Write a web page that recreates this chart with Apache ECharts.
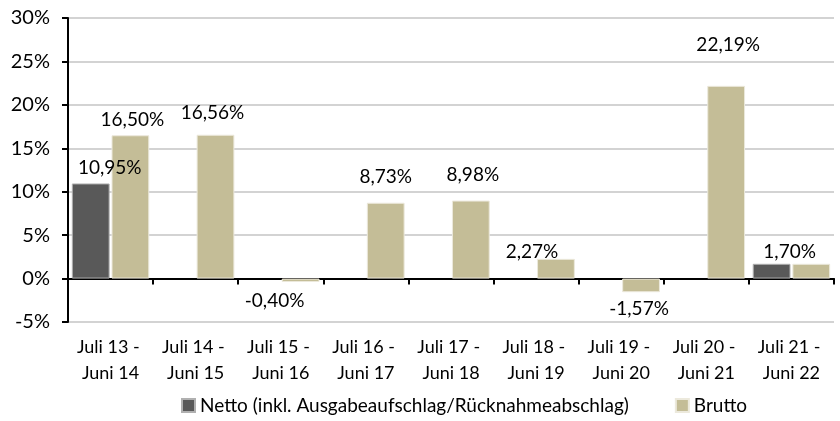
<!DOCTYPE html>
<html>
<head>
<meta charset="utf-8">
<script src="https://cdn.jsdelivr.net/npm/echarts@6/dist/echarts.min.js"></script>
<style>
  html, body { margin: 0; padding: 0; background: #fff; }
  #chart { width: 840px; height: 421px; }
</style>
</head>
<body>
<div id="chart"></div>
<script>
var categories = [
  'Juli 13 - \nJuni 14', 'Juli 14 - \nJuni 15', 'Juli 15 - \nJuni 16',
  'Juli 16 - \nJuni 17', 'Juli 17 - \nJuni 18', 'Juli 18 - \nJuni 19',
  'Juli 19 - \nJuni 20', 'Juli 20 - \nJuni 21', 'Juli 21 - \nJuni 22'
];
var nettoValues = [10.95, null, null, null, null, null, null, null, 1.70];
var bruttoValues = [16.50, 16.56, -0.40, 8.73, 8.98, 2.27, -1.57, 22.19, 1.70];
var yTicks = { min: -5, max: 30, step: 5 };

var FONT = 'Lato, "Open Sans", sans-serif';
var FS = 18;

// hand placed data labels, as in the original
var nettoLabelShift = { 0: [19, -1], 8: [18, 3] };
var bruttoLabelShift = [[2, -1], [-3, -7], [-26, 4], [0, -11], [2, -11], [-24, 8], [-2, 2], [2, -26], null];

function pct(v) {
  return v.toFixed(2).replace('.', ',') + '%';
}

function makeData(values, shifts) {
  return values.map(function (v, i) {
    if (v === null) return null;
    var s = shifts[i];
    var item = { value: v, label: { show: !!s } };
    if (s) {
      item.label.position = v < 0 ? 'bottom' : 'top';
      item.label.offset = s;
    }
    return item;
  });
}

var chart = echarts.init(document.getElementById('chart'));

chart.setOption({
  animation: false,
  textStyle: { fontFamily: FONT },
  grid: { left: 68, right: 6, top: 18, bottom: 99 },
  legend: {
    bottom: 1,
    left: 176,
    itemWidth: 13,
    itemHeight: 13,
    itemGap: 46,
    icon: 'rect',
    textStyle: { fontFamily: FONT, fontSize: FS + 1, color: '#000' },
    data: ['Netto (inkl. Ausgabeaufschlag/Rücknahmeabschlag)', 'Brutto']
  },
  xAxis: [
    {
      type: 'category',
      data: categories,
      position: 'bottom',
      axisLine: { onZero: true, lineStyle: { color: '#000', width: 2 } },
      axisTick: { show: true, length: 6, lineStyle: { color: '#000', width: 2 } },
      axisLabel: { show: false },
      splitLine: { show: false }
    },
    {
      type: 'category',
      data: categories,
      position: 'bottom',
      axisLine: { show: false, onZero: false },
      axisTick: { show: false },
      axisLabel: {
        interval: 0,
        hideOverlap: false,
        margin: 12,
        fontFamily: FONT,
        fontSize: FS,
        lineHeight: 26,
        color: '#000'
      }
    }
  ],
  yAxis: {
    type: 'value',
    min: yTicks.min,
    max: yTicks.max,
    interval: yTicks.step,
    axisLine: { show: true, lineStyle: { color: '#000', width: 2 } },
    axisTick: { show: true, length: 6, lineStyle: { color: '#000', width: 2 } },
    axisLabel: {
      margin: 18,
      fontFamily: FONT,
      fontSize: FS + 2,
      color: '#000',
      formatter: '{value}%'
    },
    splitLine: { lineStyle: { color: '#c4c4c4', width: 1.5 } }
  },
  series: [
    {
      name: 'Netto (inkl. Ausgabeaufschlag/Rücknahmeabschlag)',
      type: 'bar',
      xAxisIndex: 0,
      barGap: '5%',
      barCategoryGap: '9%',
      data: makeData(nettoValues, nettoLabelShift),
      itemStyle: { color: '#595959', borderColor: '#b0b0b0', borderWidth: 1 },
      label: {
        fontFamily: FONT,
        fontSize: FS + 1,
        color: '#000',
        formatter: function (p) { return pct(p.value); }
      }
    },
    {
      name: 'Brutto',
      type: 'bar',
      xAxisIndex: 0,
      data: makeData(bruttoValues, bruttoLabelShift),
      itemStyle: { color: '#c4bd97', borderColor: '#ece9dc', borderWidth: 1 },
      label: {
        fontFamily: FONT,
        fontSize: FS + 1,
        color: '#000',
        formatter: function (p) { return pct(p.value); }
      }
    }
  ]
});
</script>
</body>
</html>
